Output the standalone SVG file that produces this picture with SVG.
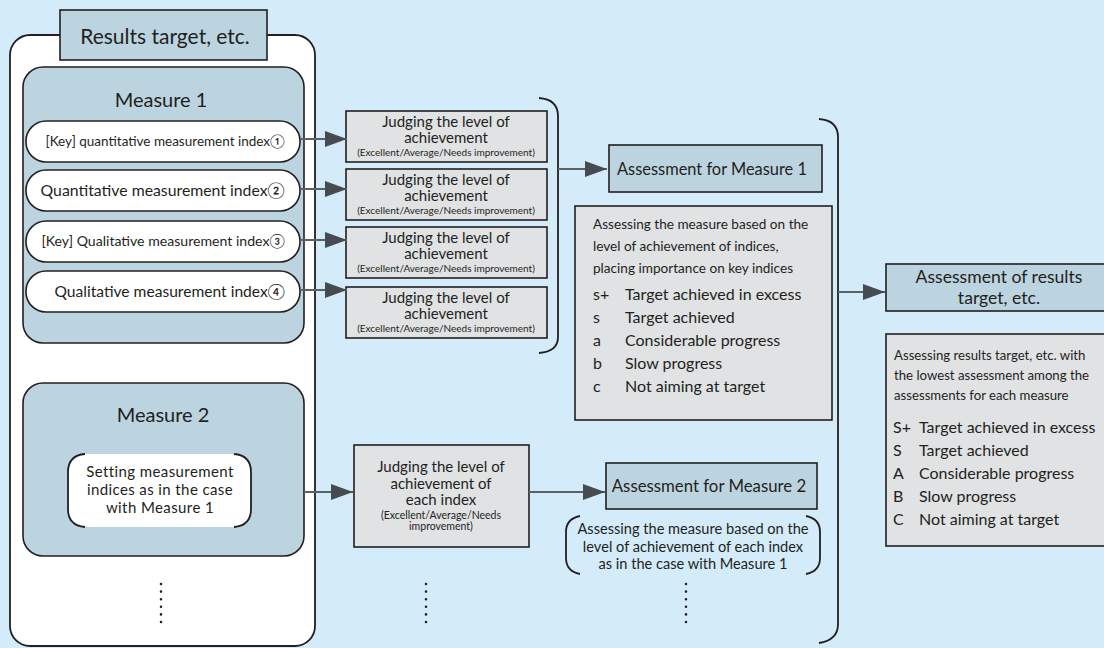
<svg xmlns="http://www.w3.org/2000/svg" width="1104" height="648" viewBox="0 0 1104 648">
<style>
text{font-family:Lato,"Noto Sans","Liberation Sans",sans-serif;fill:#231f20}
.blue{fill:#bcd4e0;stroke:#231f20;stroke-width:1.6}
.gray{fill:#e0e2e4;stroke:#231f20;stroke-width:1.6}
.pill{fill:#fff;stroke:#231f20;stroke-width:1.6}
.br{fill:none;stroke:#231f20;stroke-width:1.8}
.ln{fill:none;stroke:#5b6266;stroke-width:2}
.dots{fill:none;stroke:#231f20;stroke-width:2.6;stroke-linecap:round;stroke-dasharray:0 7.6}
.c{text-anchor:middle}
.e{text-anchor:end}
.j{font-size:15px}
.js{font-size:10px}
</style>
<defs>
<marker id="ah" viewBox="0 0 22 16" refX="22" refY="8" markerWidth="22" markerHeight="16" markerUnits="userSpaceOnUse" orient="auto">
<path d="M0,0 L22,8 L0,16 Z" fill="#454b4f"/>
</marker>
</defs>
<rect width="1104" height="648" fill="#d4ebf9"/>

<g id="outer">
<rect x="10" y="35" width="305" height="611" rx="20" fill="#fff" stroke="#231f20" stroke-width="1.8"/>
</g>
<g id="title">
<rect x="60" y="10" width="207" height="50" class="blue"/>
<text x="165" y="44" class="c" font-size="21">Results target, etc.</text>
</g>

<g id="measure1">
<rect x="23" y="67" width="281" height="276" rx="20" class="blue"/>
<text x="161" y="107" class="c" font-size="20">Measure 1</text>
</g>
<g id="index1">
<rect x="26" y="121" width="274" height="41" rx="20" class="pill"/>
<text x="285" y="146" class="e" font-size="13.5">[Key] quantitative measurement index①</text>
</g>
<g id="index2">
<rect x="26" y="170" width="274" height="41" rx="20" class="pill"/>
<text x="285" y="196" class="e" font-size="15.8">Quantitative measurement index②</text>
</g>
<g id="index3">
<rect x="26" y="221" width="274" height="41" rx="20" class="pill"/>
<text x="285" y="246" class="e" font-size="14.1">[Key] Qualitative measurement index③</text>
</g>
<g id="index4">
<rect x="26" y="271" width="274" height="41" rx="20" class="pill"/>
<text x="285" y="297" class="e" font-size="15.6">Qualitative measurement index④</text>
</g>

<g id="judge1">
<rect x="346" y="111" width="201" height="51" class="gray"/>
<text x="446" y="127" class="c j">Judging the level of</text>
<text x="446" y="143" class="c j">achievement</text>
<text x="446" y="156" class="c js">(Excellent/Average/Needs improvement)</text>
</g>
<g id="judge2">
<rect x="346" y="169" width="201" height="51" class="gray"/>
<text x="446" y="185" class="c j">Judging the level of</text>
<text x="446" y="201" class="c j">achievement</text>
<text x="446" y="214" class="c js">(Excellent/Average/Needs improvement)</text>
</g>
<g id="judge3">
<rect x="346" y="227" width="201" height="51" class="gray"/>
<text x="446" y="243" class="c j">Judging the level of</text>
<text x="446" y="259" class="c j">achievement</text>
<text x="446" y="272" class="c js">(Excellent/Average/Needs improvement)</text>
</g>
<g id="judge4">
<rect x="346" y="287" width="201" height="51" class="gray"/>
<text x="446" y="303" class="c j">Judging the level of</text>
<text x="446" y="319" class="c j">achievement</text>
<text x="446" y="332" class="c js">(Excellent/Average/Needs improvement)</text>
</g>

<g id="assess1">
<rect x="609" y="145" width="213" height="47" class="blue"/>
<text x="712" y="175" class="c" font-size="16.4">Assessment for Measure 1</text>
</g>
<g id="assess1-desc">
<rect x="575" y="206" width="257" height="214" class="gray"/>
<text x="593" y="229" font-size="13.6">Assessing the measure based on the</text>
<text x="593" y="251" font-size="13.6">level of achievement of indices,</text>
<text x="593" y="273" font-size="13.6">placing importance on key indices</text>
<g font-size="16">
<text x="593" y="300" font-family="Liberation Sans">s+</text><text x="625" y="300">Target achieved in excess</text>
<text x="593" y="323" font-family="Liberation Sans">s</text><text x="625" y="323">Target achieved</text>
<text x="593" y="346" font-family="Liberation Sans">a</text><text x="625" y="346">Considerable progress</text>
<text x="593" y="369" font-family="Liberation Sans">b</text><text x="625" y="369">Slow progress</text>
<text x="593" y="392" font-family="Liberation Sans">c</text><text x="625" y="392">Not aiming at target</text>
</g>
</g>

<g id="assess-results">
<rect x="886" y="264" width="225" height="47" class="blue"/>
<text x="999" y="283" class="c" font-size="17.6">Assessment of results</text>
<text x="999" y="304" class="c" font-size="17.6">target, etc.</text>
</g>
<g id="assess-results-desc">
<rect x="886" y="334" width="225" height="212" class="gray"/>
<text x="894" y="360" font-size="13.2">Assessing results target, etc. with</text>
<text x="894" y="380" font-size="13.2">the lowest assessment among the</text>
<text x="894" y="400" font-size="13.2">assessments for each measure</text>
<g font-size="16">
<text x="893" y="433" font-family="Liberation Sans">S+</text><text x="919" y="433">Target achieved in excess</text>
<text x="893" y="456" font-family="Liberation Sans">S</text><text x="919" y="456">Target achieved</text>
<text x="893" y="479" font-family="Liberation Sans">A</text><text x="919" y="479">Considerable progress</text>
<text x="893" y="502" font-family="Liberation Sans">B</text><text x="919" y="502">Slow progress</text>
<text x="893" y="525" font-family="Liberation Sans">C</text><text x="919" y="525">Not aiming at target</text>
</g>
</g>

<g id="measure2">
<rect x="23" y="383" width="281" height="173" rx="20" class="blue"/>
<text x="163" y="422" class="c" font-size="20">Measure 2</text>
</g>
<g id="setting">
<rect x="68" y="454" width="183" height="73" rx="16" fill="#fff"/>
<path class="br" d="M85,454 C73,455 68,462 68,472 V509 C68,519 73,526 85,527"/>
<path class="br" d="M234,454 C246,455 251,462 251,472 V509 C251,519 246,526 234,527"/>
<text x="160" y="477" class="c" font-size="15" letter-spacing="0.4">Setting measurement</text>
<text x="160" y="495" class="c" font-size="15" letter-spacing="0.4">indices as in the case</text>
<text x="160" y="513" class="c" font-size="15" letter-spacing="0.4">with Measure 1</text>
</g>
<g id="judge-m2">
<rect x="354" y="445" width="175" height="102" class="gray"/>
<text x="441" y="472" class="c" font-size="15">Judging the level of</text>
<text x="441" y="489" class="c" font-size="15">achievement of</text>
<text x="441" y="505" class="c" font-size="15">each index</text>
<text x="441" y="519" class="c" font-size="10.5">(Excellent/Average/Needs</text>
<text x="441" y="530" class="c" font-size="10.5">improvement)</text>
</g>
<g id="assess2">
<rect x="606" y="463" width="211" height="46" class="blue"/>
<text x="709" y="492" class="c" font-size="16.8">Assessment for Measure 2</text>
</g>
<g id="assess2-desc">
<path class="br" d="M580,516 C570,518 566,524 566,532 V558 C566,566 570,572 580,574"/>
<path class="br" d="M806,516 C816,518 820,524 820,532 V558 C820,566 816,572 806,574"/>
<text x="693" y="534" class="c" font-size="14.6">Assessing the measure based on the</text>
<text x="693" y="552" class="c" font-size="14.6">level of achievement of each index</text>
<text x="693" y="569" class="c" font-size="14.6">as in the case with Measure 1</text>
</g>

<g id="connectors">
<line class="ln" x1="300" y1="139" x2="347" y2="139" marker-end="url(#ah)"/>
<line class="ln" x1="300" y1="189" x2="347" y2="189" marker-end="url(#ah)"/>
<line class="ln" x1="300" y1="240" x2="347" y2="240" marker-end="url(#ah)"/>
<line class="ln" x1="300" y1="290" x2="347" y2="290" marker-end="url(#ah)"/>
<path class="br" d="M539,98 C552,99 558,106 558,116 V337 C558,346 552,352 539,353"/>
<line class="ln" x1="558" y1="169" x2="607" y2="169" marker-end="url(#ah)"/>
<path class="br" d="M819,119 C832,120 838,127 838,137 V624 C838,634 832,641 819,643"/>
<line class="ln" x1="838" y1="292" x2="885" y2="292" marker-end="url(#ah)"/>
<line class="ln" x1="304" y1="492" x2="353" y2="492" marker-end="url(#ah)"/>
<line class="ln" x1="529" y1="492" x2="605" y2="492" marker-end="url(#ah)"/>
<line class="dots" x1="161" y1="584" x2="161" y2="623"/>
<line class="dots" x1="426" y1="584" x2="426" y2="623"/>
<line class="dots" x1="686" y1="584" x2="686" y2="623"/>
</g>
</svg>
